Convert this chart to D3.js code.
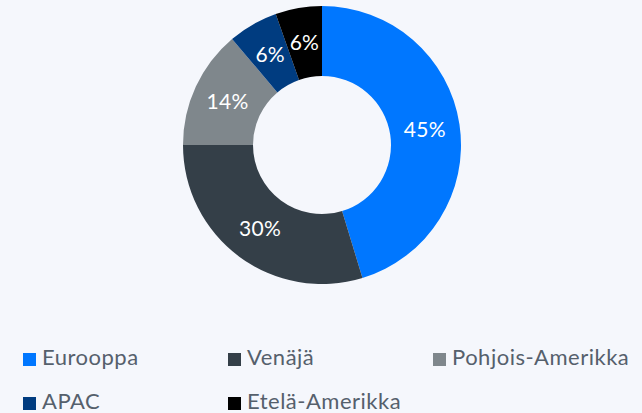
<!DOCTYPE html>
<html>
<head>
<meta charset="utf-8">
<script src="https://cdn.jsdelivr.net/npm/d3@7"></script>
<style>
  html, body { margin: 0; padding: 0; background: #f5f7fc; }
  svg { display: block; }
  .slice-label { font-family: Lato, sans-serif; font-size: 21px; fill: #fff; letter-spacing: 0.3px; }
  .legend-label { font-family: Lato, sans-serif; font-size: 22px; fill: #55606c; letter-spacing: 0.5px; }
</style>
</head>
<body>
<div id="chart"></div>
<script>
const regions = ['Eurooppa', 'Venäjä', 'Pohjois-Amerikka', 'APAC', 'Etelä-Amerikka'];
const shares = [45.3, 29.7, 13.8, 5.8, 5.4];
const shareLabels = ['45%', '30%', '14%', '6%', '6%'];
const colors = ['#0077ff', '#343f48', '#7f878c', '#003c80', '#000000'];

const width = 642;
const height = 413;
const cx = 322;
const cy = 145;
const outerR = 139;
const innerR = 69;

const svg = d3.select('#chart')
    .append('svg')
    .attr('width', width)
    .attr('height', height);

const pie = d3.pie()
    .sort(null)
    .value(d => d);

const arc = d3.arc()
    .innerRadius(innerR)
    .outerRadius(outerR);

const arcs = pie(shares);

const g = svg.append('g').attr('transform', `translate(${cx},${cy})`);

g.selectAll('path.slice')
    .data(arcs)
    .enter()
    .append('path')
    .attr('class', 'slice')
    .attr('d', arc)
    .attr('fill', (d, i) => colors[i]);

g.selectAll('text.slice-label')
    .data(arcs)
    .enter()
    .append('text')
    .attr('class', 'slice-label')
    .attr('transform', d => `translate(${arc.centroid(d)})`)
    .attr('text-anchor', 'middle')
    .attr('dy', '0.36em')
    .text((d, i) => shareLabels[i]);

// legend, 3 per row
const legend = svg.append('g').attr('class', 'legend');
const colX = d3.scaleBand().domain([0, 1, 2]).range([23, 638]).paddingInner(0);
const rowY = d => 353 + Math.floor(d / 3) * 44;

const item = legend.selectAll('g.item')
    .data(regions)
    .enter()
    .append('g')
    .attr('class', 'item')
    .attr('transform', (d, i) => `translate(${colX(i % 3)},${rowY(i)})`);

item.append('rect')
    .attr('width', 13)
    .attr('height', 13)
    .attr('fill', (d, i) => colors[i]);

item.append('text')
    .attr('class', 'legend-label')
    .attr('x', 19)
    .attr('y', 12)
    .text(d => d);
</script>
</body>
</html>
